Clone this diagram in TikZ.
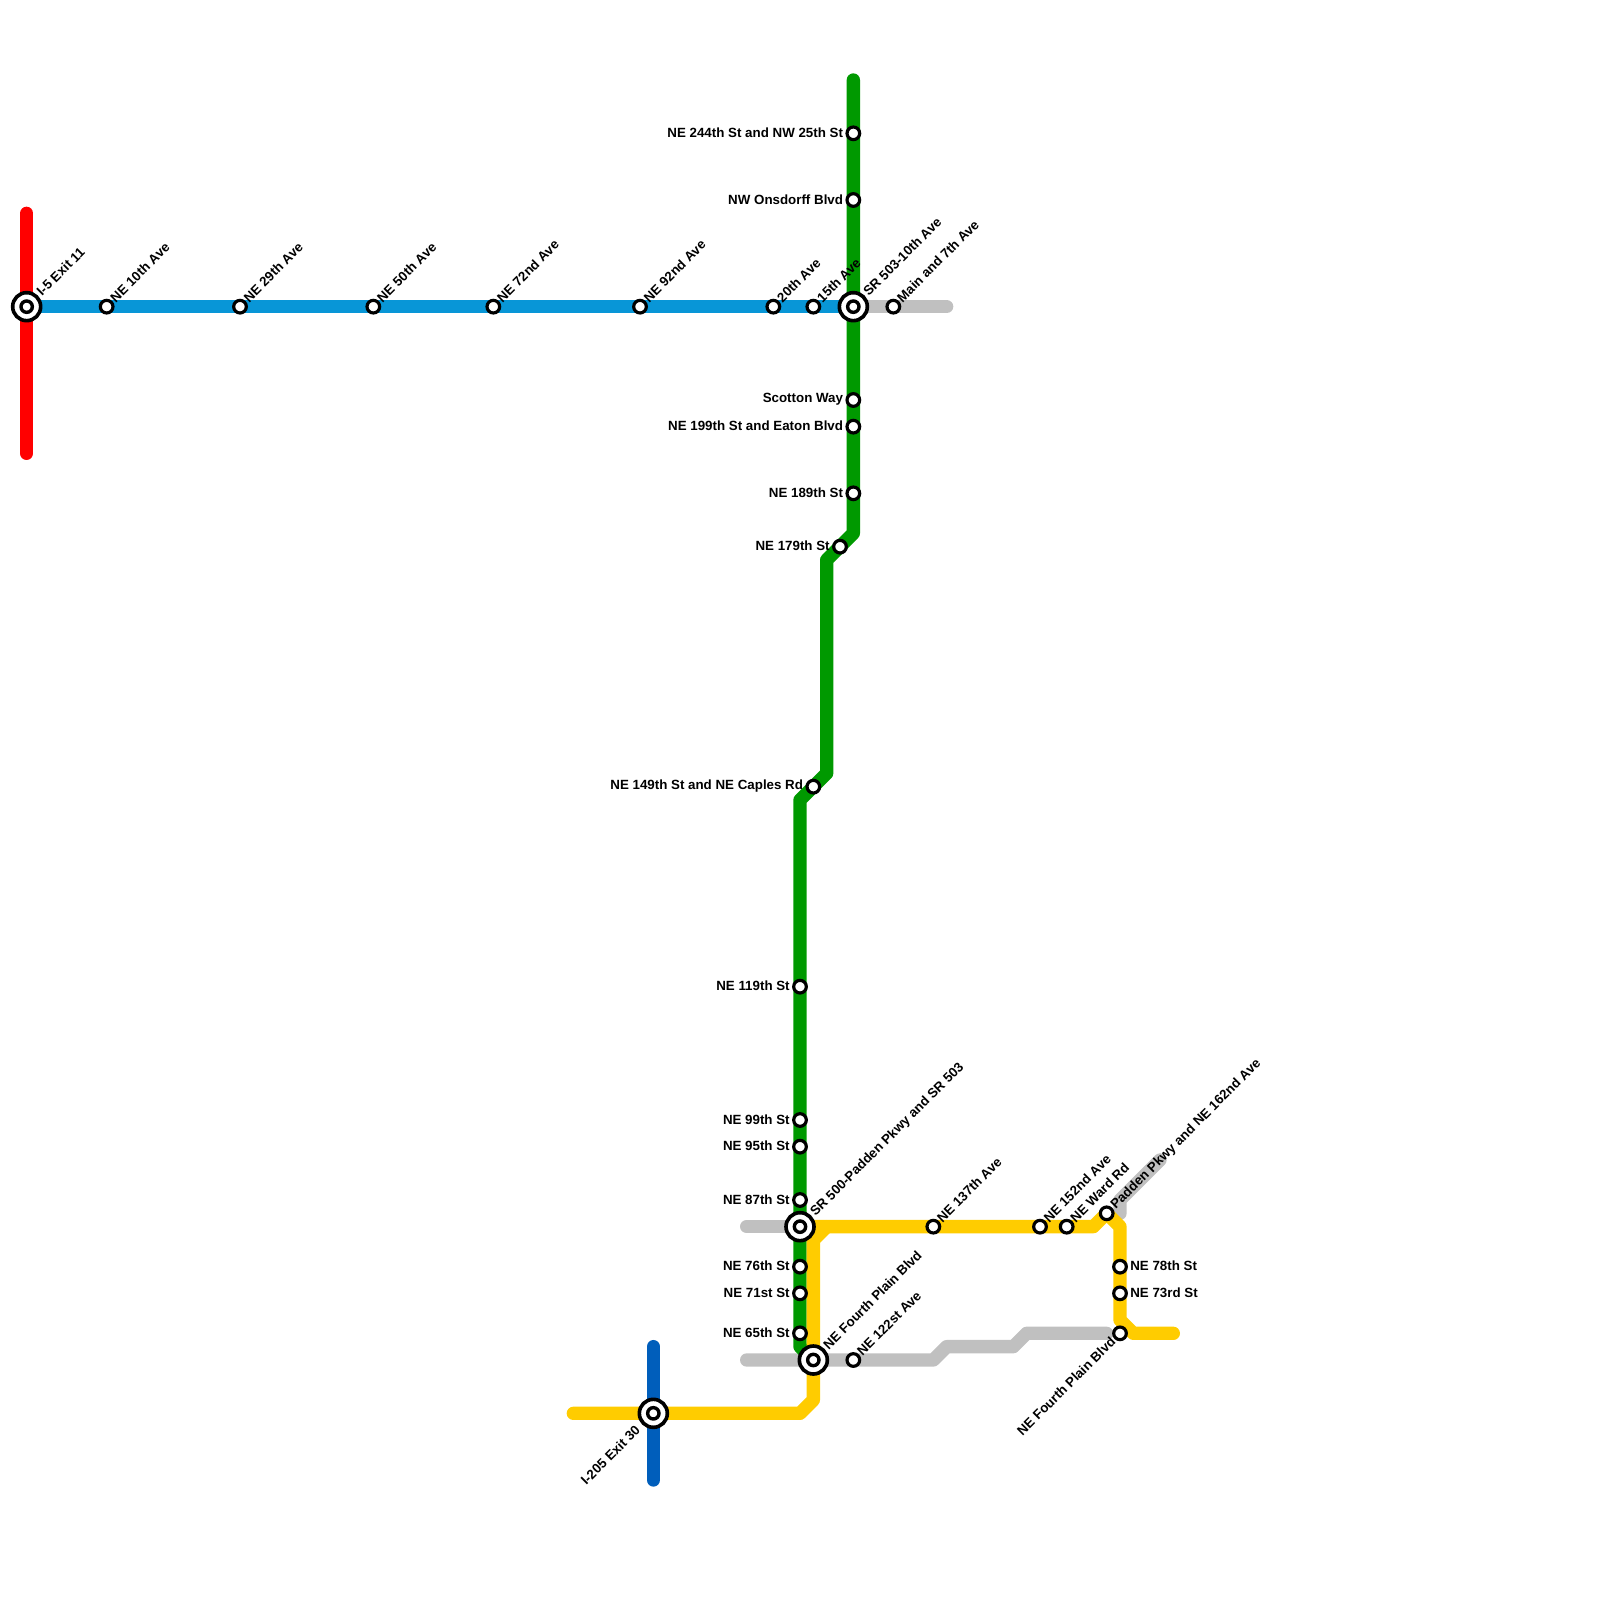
\documentclass[tikz,border=0pt]{standalone}
\usepackage{fontspec}
\setmainfont{Liberation Sans}
\usetikzlibrary{backgrounds}
\tikzset{
  route/.style={line width=5.69pt,line cap=round,line join=round},
  stop/.style={circle,draw=black,fill=white,line width=1.35pt,minimum size=5.4pt,inner sep=0pt},
  bigstop/.style={circle,draw=black,fill=white,line width=1.55pt,minimum size=11.95pt,inner sep=0pt,label={[stop,line width=1.45pt,minimum size=4.85pt]center:{}}},
  place/.style={font=\bfseries\fontsize{5.69pt}{6pt}\selectfont,inner sep=0pt,text=black},
  uplabel/.style={place,rotate=45,anchor=base west,inner xsep=3.7pt,yshift=-1.7pt},
  bigup/.style={place,rotate=45,anchor=base west,inner xsep=7.5pt,yshift=-1.7pt},
  downlabel/.style={place,rotate=45,anchor=base east,inner xsep=9pt,yshift=-1.7pt},
  leftlabel/.style={place,anchor=east,inner xsep=4.2pt,yshift=.3pt},
  rightlabel/.style={place,anchor=west,inner xsep=4.2pt,yshift=.3pt},
}
\definecolor{cred}{HTML}{FF0000}
\definecolor{cblue}{HTML}{0896D7}
\definecolor{cnavy}{HTML}{005EBB}
\definecolor{cgreen}{HTML}{009900}
\definecolor{cyellow}{HTML}{FFCC00}
\definecolor{cgrey}{HTML}{C0C0C0}
\begin{document}
\begin{tikzpicture}[scale=.2]
\useasboundingbox (0,0) rectangle (120,-120);
% east-west stops
\node [bigstop] (exit11) at (2,-23) {};
\node [stop] (ne10) at (8,-23) {};
\node [stop] (ne29) at (18,-23) {};
\node [stop] (ne50) at (28,-23) {};
\node [stop] (ne72) at (37,-23) {};
\node [stop] (ne92) at (48,-23) {};
\node [stop] (ave20) at (58,-23) {};
\node [stop] (ave15) at (61,-23) {};
\node [bigstop] (sr503) at (64,-23) {};
\node [stop] (main) at (67,-23) {};
% north-south stops
\node [stop] (st244) at (64,-10) {};
\node [stop] (onsdorff) at (64,-15) {};
\node [stop] (scotton) at (64,-30) {};
\node [stop] (st199) at (64,-32) {};
\node [stop] (st189) at (64,-37) {};
\node [stop] (st179) at (63,-41) {};
\node [stop] (st149) at (61,-59) {};
\node [stop] (st119) at (60,-74) {};
\node [stop] (st99) at (60,-84) {};
\node [stop] (st95) at (60,-86) {};
\node [stop] (st87) at (60,-90) {};
\node [bigstop] (sr500) at (60,-92) {};
\node [stop] (st76) at (60,-95) {};
\node [stop] (st71) at (60,-97) {};
\node [stop] (st65) at (60,-100) {};
% southern stops
\node [bigstop] (fourth) at (61,-102) {};
\node [stop] (ave122) at (64,-102) {};
\node [bigstop] (exit30) at (49,-106) {};
\node [stop] (ave137) at (70,-92) {};
\node [stop] (ave152) at (78,-92) {};
\node [stop] (ward) at (80,-92) {};
\node [stop] (padden) at (83,-91) {};
\node [stop] (st78) at (84,-95) {};
\node [stop] (st73) at (84,-97) {};
\node [stop] (fourth2) at (84,-100) {};
% line ends and bends
\coordinate (redtop) at (2,-16);
\coordinate (redend) at (2,-34);
\coordinate (greytop) at (71,-23);
\coordinate (greentop) at (64,-6);
\coordinate (greena) at (64,-40);
\coordinate (greenb) at (62,-42);
\coordinate (greenc) at (62,-58);
\coordinate (greend) at (60,-60);
\coordinate (greene) at (60,-101);
\coordinate (navytop) at (49,-101);
\coordinate (navyend) at (49,-111);
\coordinate (greyw) at (56,-92);
\coordinate (greysw) at (56,-102);
\coordinate (greya) at (70,-102);
\coordinate (greyb) at (71,-101);
\coordinate (greyc) at (76,-101);
\coordinate (greyd) at (77,-100);
\coordinate (greye) at (83,-100);
\coordinate (greyf) at (84,-91);
\coordinate (greyg) at (84,-90);
\coordinate (greyh) at (87,-87);
\coordinate (yellowa) at (82,-92);
\coordinate (yellowb) at (84,-92);
\coordinate (yellowc) at (84,-99);
\coordinate (yellowd) at (85,-100);
\coordinate (yellowe) at (88,-100);
\coordinate (yellowf) at (62,-92);
\coordinate (yellowg) at (61,-93);
\coordinate (yellowh) at (61,-105);
\coordinate (yellowi) at (60,-106);
\coordinate (yellowj) at (43,-106);
% the lines go under the stops
\begin{scope}[on background layer]
\draw [route,cgrey] (sr503.center) -- (greytop);
\draw [route,cgrey] (greyw) -- (sr500.center);
\draw [route,cgrey] (greysw) -- (greya) -- (greyb) -- (greyc) -- (greyd) -- (greye);
\draw [route,cgrey] (greyf) -- (greyg) -- (greyh);
\draw [route,cred] (redtop) -- (redend);
\draw [route,cnavy] (navytop) -- (navyend);
\draw [route,cblue] (exit11.center) -- (sr503.center);
\draw [route,cgreen] (greentop) -- (greena) -- (greenb) -- (greenc) -- (greend) -- (greene) -- (fourth.center);
\draw [route,cyellow] (sr500.center) -- (yellowa) -- (padden.center) -- (yellowb) -- (yellowc) -- (yellowd) -- (yellowe);
\draw [route,cyellow] (yellowf) -- (yellowg) -- (yellowh) -- (yellowi) -- (yellowj);
\end{scope}
% labels
\node [bigup] at (exit11.center) {I-5 Exit 11};
\node [uplabel] at (ne10.center) {NE 10th Ave};
\node [uplabel] at (ne29.center) {NE 29th Ave};
\node [uplabel] at (ne50.center) {NE 50th Ave};
\node [uplabel] at (ne72.center) {NE 72nd Ave};
\node [uplabel] at (ne92.center) {NE 92nd Ave};
\node [uplabel] at (ave20.center) {20th Ave};
\node [uplabel] at (ave15.center) {15th Ave};
\node [bigup] at (sr503.center) {SR 503-10th Ave};
\node [uplabel] at (main.center) {Main and 7th Ave};
\node [leftlabel] at (st244.center) {NE 244th St and NW 25th St};
\node [leftlabel] at (onsdorff.center) {NW Onsdorff Blvd};
\node [leftlabel] at (scotton.center) {Scotton Way};
\node [leftlabel] at (st199.center) {NE 199th St and Eaton Blvd};
\node [leftlabel] at (st189.center) {NE 189th St};
\node [leftlabel] at (st179.center) {NE 179th St};
\node [leftlabel] at (st149.center) {NE 149th St and NE Caples Rd};
\node [leftlabel] at (st119.center) {NE 119th St};
\node [leftlabel] at (st99.center) {NE 99th St};
\node [leftlabel] at (st95.center) {NE 95th St};
\node [leftlabel] at (st87.center) {NE 87th St};
\node [bigup] at (sr500.center) {SR 500-Padden Pkwy and SR 503};
\node [leftlabel] at (st76.center) {NE 76th St};
\node [leftlabel] at (st71.center) {NE 71st St};
\node [leftlabel] at (st65.center) {NE 65th St};
\node [bigup] at (fourth.center) {NE Fourth Plain Blvd};
\node [uplabel] at (ave122.center) {NE 122st Ave};
\node [downlabel] at (exit30.center) {I-205 Exit 30};
\node [uplabel] at (ave137.center) {NE 137th Ave};
\node [uplabel] at (ave152.center) {NE 152nd Ave};
\node [uplabel] at (ward.center) {NE Ward Rd};
\node [uplabel] at (padden.center) {Padden Pkwy and NE 162nd Ave};
\node [rightlabel] at (st78.center) {NE 78th St};
\node [rightlabel] at (st73.center) {NE 73rd St};
\node [downlabel,inner xsep=3.7pt] at (fourth2.center) {NE Fourth Plain Blvd};
\end{tikzpicture}
\end{document}
